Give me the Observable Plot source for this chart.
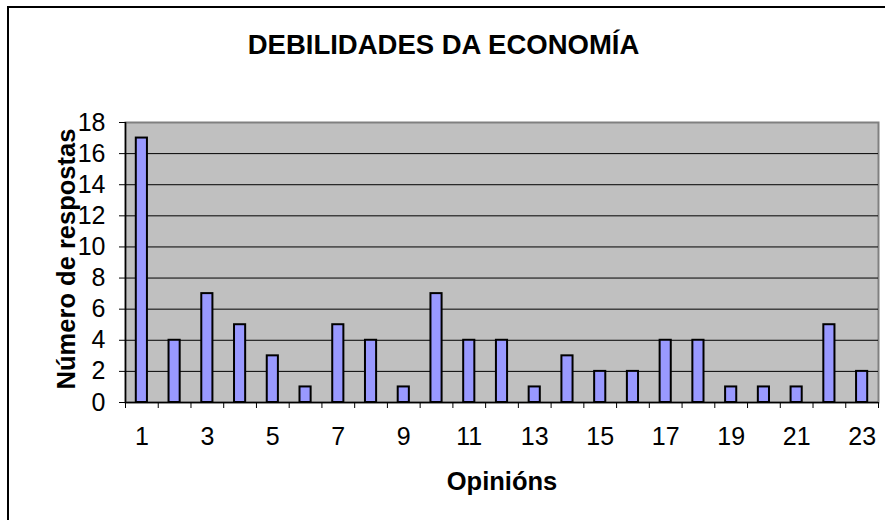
<!DOCTYPE html>
<html>
<head>
<meta charset="utf-8">
<script src="https://cdn.jsdelivr.net/npm/d3@7"></script>
<script src="https://cdn.jsdelivr.net/npm/@observablehq/plot@0.6"></script>
<style>
  html, body { margin: 0; padding: 0; background: #fff; overflow: hidden; }
  #wrap { position: relative; width: 885px; height: 520px; }
  #border { position: absolute; left: 7px; top: 6px; width: 1000px; height: 1000px;
            border-left: 2px solid #000; border-top: 2px solid #000; pointer-events: none; }
  #chart { position: absolute; left: 0; top: 0; }
</style>
</head>
<body>
<div id="wrap"><div id="chart"></div><div id="border"></div></div>
<script>
const title = "DEBILIDADES DA ECONOMÍA";
const xLabel = "Opiniόns".replace("ό", "ó");
const yLabel = "Número de respostas";
const categories = [1,2,3,4,5,6,7,8,9,10,11,12,13,14,15,16,17,18,19,20,21,22,23];
const values = [17,4,7,5,3,1,5,4,1,7,4,4,1,3,2,2,4,4,1,1,1,5,2];
const xTickLabels = [1,3,5,7,9,11,13,15,17,19,21,23];
const yTicks = [0,2,4,6,8,10,12,14,16,18];
const gridTicks = [2,4,6,8,10,12,14,16];

const data = categories.map((c, i) => ({c, v: values[i]}));
const bounds = categories.map(c => c - 0.5).concat([categories[categories.length - 1] + 0.5]);

const plot = Plot.plot({
  width: 885,
  height: 520,
  marginLeft: 125,
  marginRight: 7,
  marginTop: 122,
  marginBottom: 118,
  style: {fontFamily: "'Liberation Sans', Arial, sans-serif", fontSize: "25px", color: "#000", background: "transparent", overflow: "visible"},
  x: {domain: [0.5, 23.5]},
  y: {domain: [0, 18]},
  marks: [
    Plot.frame({fill: "#c0c0c0", stroke: "#808080", strokeWidth: 2}),
    Plot.gridY(gridTicks, {stroke: "#000", strokeOpacity: 1, strokeWidth: 1}),
    Plot.rectY(data, {x1: d => d.c - 0.5, x2: d => d.c + 0.5, y: "v", insetLeft: 10.8, insetRight: 10.8,
      fill: "#9999ff", stroke: "#000", strokeWidth: 2}),
    Plot.ruleY([0], {stroke: "#000", strokeWidth: 1.5}),
    Plot.ruleX([0.5], {stroke: "#000", strokeWidth: 1.5}),
    Plot.axisY(yTicks, {tickSize: 6, tickPadding: 14, fontSize: 25, label: null, stroke: "#000"}),
    Plot.axisX(bounds, {tickSize: 6, tickFormat: () => "", label: null, stroke: "#000"}),
    Plot.axisX(xTickLabels, {tickSize: 0, tickPadding: 25, fontSize: 25, label: null}),
    Plot.text([title], {frameAnchor: "top", textAnchor: "middle", dx: 442.5 - 501, dy: -77, lineAnchor: "middle",
      fontSize: 27.5, fontWeight: "bold", fill: "#000"}),
    Plot.text([xLabel], {frameAnchor: "bottom", textAnchor: "middle", dy: 79, lineAnchor: "middle",
      fontSize: 25.5, fontWeight: "bold", fill: "#000"}),
    Plot.text([yLabel], {frameAnchor: "left", textAnchor: "middle", rotate: -90, dx: -59, dy: -3.5, lineAnchor: "middle",
      fontSize: 25.5, fontWeight: "bold", fill: "#000"})
  ]
});
document.getElementById("chart").appendChild(plot);
</script>
</body>
</html>
